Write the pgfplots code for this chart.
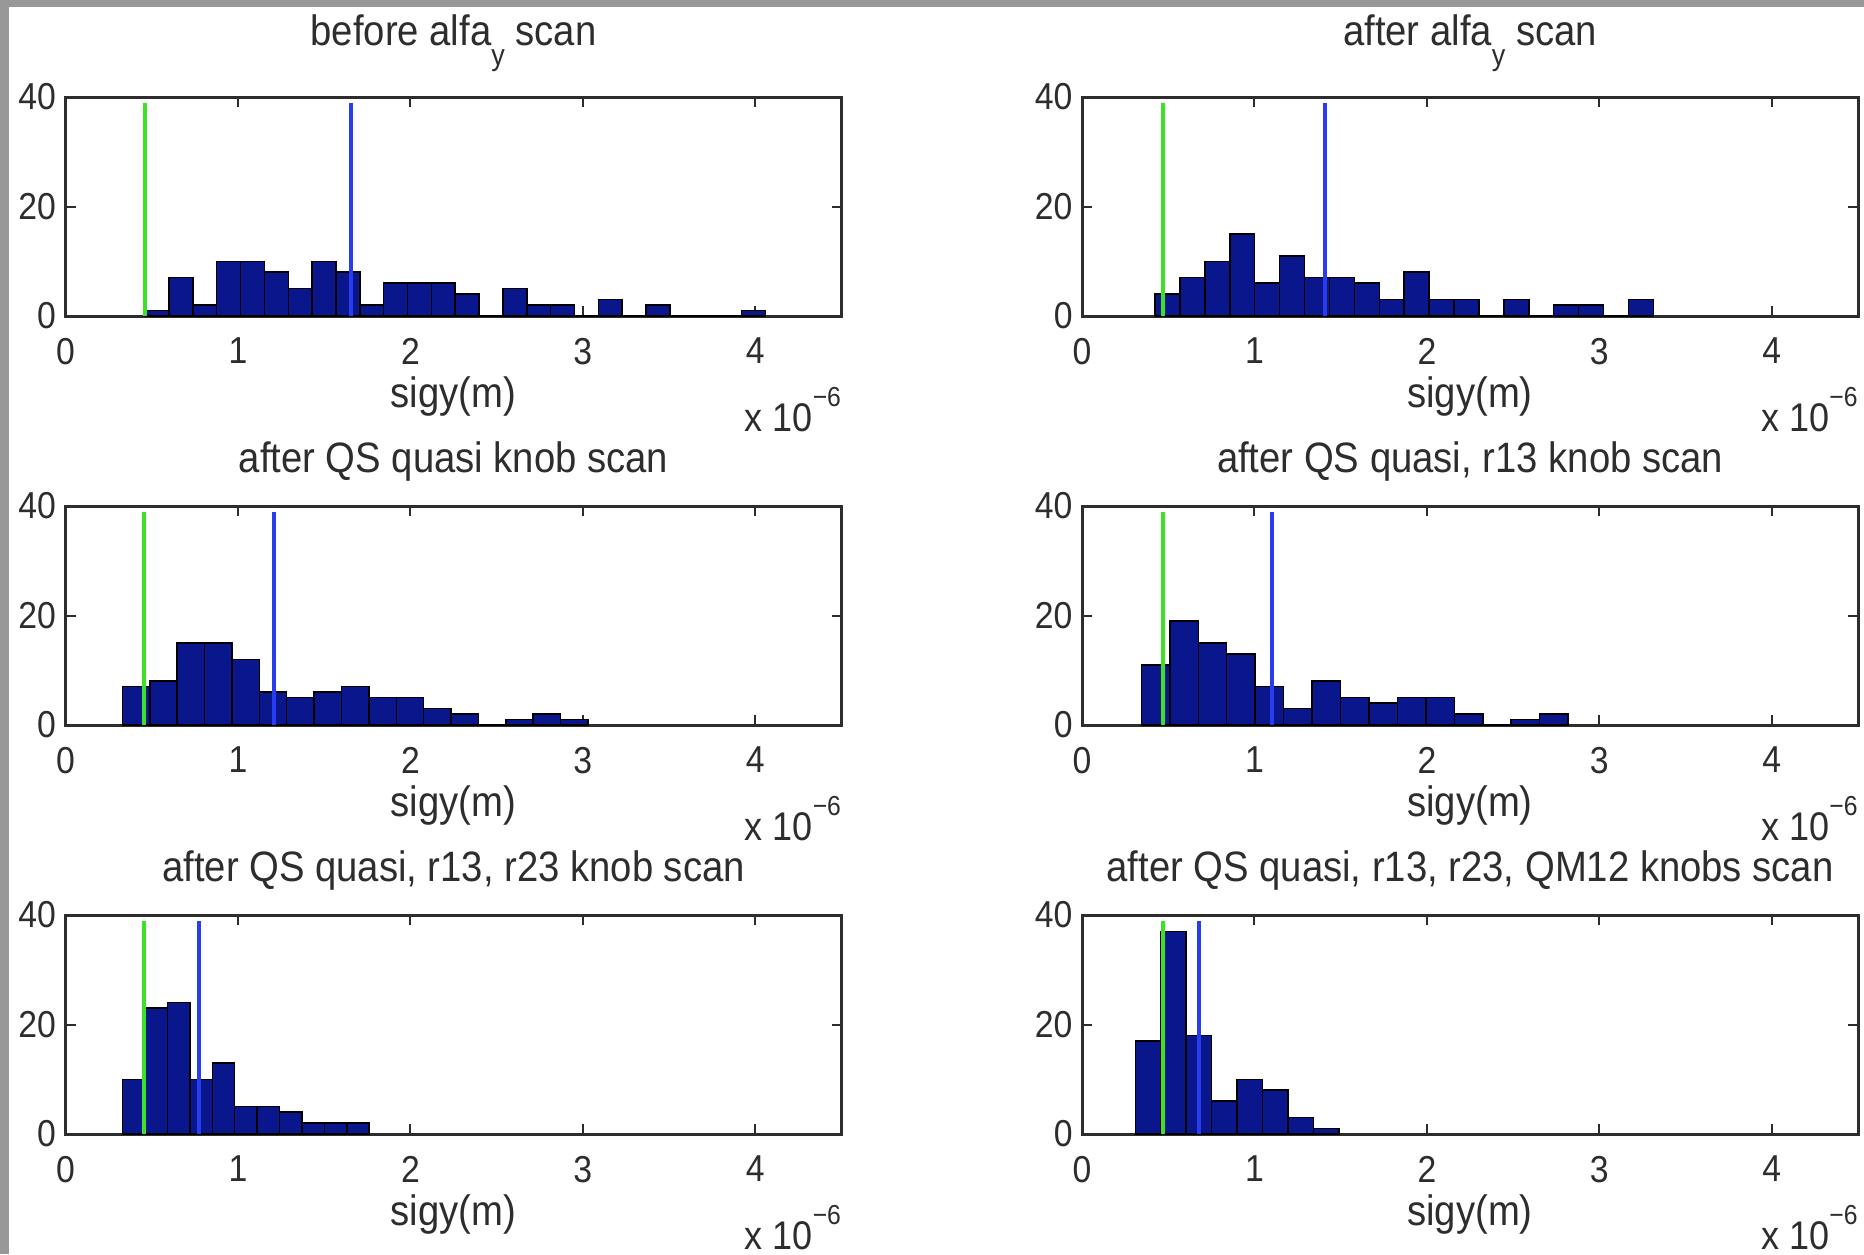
\documentclass[border=0pt]{standalone}
\usepackage{fontspec}
\setmainfont{Liberation Sans}[FakeStretch=0.9]
\usepackage{pgfplots}
\pgfplotsset{compat=1.18}
\definecolor{barblue}{RGB}{10,22,140}
\definecolor{lgreen}{RGB}{60,225,40}
\definecolor{lblue}{RGB}{40,60,240}
\definecolor{axgray}{RGB}{45,45,45}
\definecolor{txt}{RGB}{45,45,45}
\definecolor{bggray}{RGB}{152,152,152}
\newcommand{\sub}[1]{\raisebox{-8.2pt}{\fontsize{12}{12}\selectfont #1}}
\newcommand{\mult}{x 10\raisebox{10pt}{\fontsize{11}{11}\selectfont −6}}
\tikzset{
  ttl/.style={anchor=base, font=\fontsize{17}{17}\selectfont, text=txt, inner sep=0pt},
  mlt/.style={anchor=base east, font=\fontsize{16}{16}\selectfont, text=txt, inner sep=0pt, yshift=-46pt},
}
\pgfplotsset{
  mat/.style={
    scale only axis, width=310.4pt, height=87.6pt,
    anchor=south west,
    xmin=0, xmax=4.5, ymin=0, ymax=40,
    xtick={0,1,2,3,4}, ytick={0,20,40},
    x tick label as interval=false,
    tick align=inside, major tick length=4pt,
    axis line style={line width=1.2pt, draw=axgray},
    every tick/.style={line width=0.8pt, draw=axgray},
    tick label style={font=\fontsize{15}{15}\selectfont, text=txt},
    xticklabel style={anchor=north, inner sep=0pt, yshift=-8.6pt},
    yticklabel style={anchor=east, inner sep=0pt, xshift=-3.6pt},
    /pgf/number format/assume math mode=true,
    clip mode=individual,
    xlabel={sigy(m)},
    xlabel style={at={(axis description cs:0.5,0)}, anchor=base, yshift=-36.4pt, font=\fontsize{17}{17}\selectfont, text=txt, inner sep=0pt},
  },
  bars/.style={ybar interval, fill=barblue, draw=black, line width=0.6pt},
  gline/.style={draw=lgreen, line width=1.6pt, no marks},
  bline/.style={draw=lblue, line width=1.6pt, no marks},
}
\begin{document}
\begin{tikzpicture}
\useasboundingbox (0,0) rectangle (745.6pt,-501.6pt);
\fill[bggray] (0,0) rectangle (745.6pt,-501.6pt);
\fill[white] (3.6pt,-2.8pt) rectangle (745.6pt,-501.6pt);

% Row 1 left: before alfa_y scan
\begin{axis}[mat, at={(26.2pt,-126.4pt)}]
\addplot[bars] coordinates {
(0.462,1) (0.600,7) (0.739,2) (0.877,10) (1.015,10) (1.154,8) (1.292,5) (1.430,10)
(1.568,8) (1.707,2) (1.845,6) (1.983,6) (2.122,6) (2.260,4) (2.398,0) (2.537,5)
(2.675,2) (2.813,2) (2.951,0) (3.090,3) (3.228,0) (3.366,2) (3.505,0) (3.643,0)
(3.781,0) (3.920,1) (4.058,0)};
\addplot[gline] coordinates {(0.462,0) (0.462,38.9)};
\addplot[bline] coordinates {(1.656,0) (1.656,38.9)};
\node[ttl, yshift=20.8pt] at (axis description cs:0.5,1) {before alfa\sub{y} scan};
\node[mlt] at (axis description cs:1,0) {\mult};
\end{axis}

% Row 1 right: after alfa_y scan
\begin{axis}[mat, at={(432.8pt,-126.4pt)}]
\addplot[bars] coordinates {
(0.423,4) (0.568,7) (0.712,10) (0.857,15) (1.001,6) (1.146,11) (1.290,7) (1.435,7)
(1.579,6) (1.724,3) (1.868,8) (2.013,3) (2.157,3) (2.302,0) (2.446,3) (2.591,0)
(2.735,2) (2.880,2) (3.024,0) (3.169,3) (3.313,0)};
\addplot[gline] coordinates {(0.471,0) (0.471,38.9)};
\addplot[bline] coordinates {(1.41,0) (1.41,38.9)};
\node[ttl, yshift=20.8pt] at (axis description cs:0.5,1) {after alfa\sub{y} scan};
\node[mlt] at (axis description cs:1,0) {\mult};
\end{axis}

% Row 2 left: after QS quasi knob scan
\begin{axis}[mat, at={(26.2pt,-290pt)}]
\addplot[bars] coordinates {
(0.330,7) (0.489,8) (0.648,15) (0.806,15) (0.965,12) (1.124,6) (1.283,5) (1.442,6)
(1.600,7) (1.759,5) (1.918,5) (2.077,3) (2.236,2) (2.394,0) (2.553,1) (2.712,2)
(2.871,1) (3.030,0)};
\addplot[gline] coordinates {(0.458,0) (0.458,38.9)};
\addplot[bline] coordinates {(1.21,0) (1.21,38.9)};
\node[ttl, yshift=13.6pt] at (axis description cs:0.5,1) {after QS quasi knob scan};
\node[mlt] at (axis description cs:1,0) {\mult};
\end{axis}

% Row 2 right: after QS quasi, r13 knob scan
\begin{axis}[mat, at={(432.8pt,-290pt)}]
\addplot[bars] coordinates {
(0.344,11) (0.509,19) (0.674,15) (0.839,13) (1.004,7) (1.169,3) (1.334,8) (1.499,5)
(1.664,4) (1.829,5) (1.994,5) (2.159,2) (2.324,0) (2.489,1) (2.654,2) (2.819,0)};
\addplot[gline] coordinates {(0.472,0) (0.472,38.9)};
\addplot[bline] coordinates {(1.10,0) (1.10,38.9)};
\node[ttl, yshift=13.6pt] at (axis description cs:0.5,1) {after QS quasi, r13 knob scan};
\node[mlt] at (axis description cs:1,0) {\mult};
\end{axis}

% Row 3 left: after QS quasi, r13, r23 knob scan
\begin{axis}[mat, at={(26.2pt,-453.6pt)}]
\addplot[bars] coordinates {
(0.331,10) (0.461,23) (0.591,24) (0.721,10) (0.851,13) (0.981,5) (1.111,5) (1.241,4)
(1.371,2) (1.501,2) (1.631,2) (1.761,0)};
\addplot[gline] coordinates {(0.455,0) (0.455,38.9)};
\addplot[bline] coordinates {(0.774,0) (0.774,38.9)};
\node[ttl, yshift=13.6pt] at (axis description cs:0.5,1) {after QS quasi, r13, r23 knob scan};
\node[mlt] at (axis description cs:1,0) {\mult};
\end{axis}

% Row 3 right: after QS quasi, r13, r23, QM12 knobs scan
\begin{axis}[mat, at={(432.8pt,-453.6pt)}]
\addplot[bars] coordinates {
(0.309,17) (0.457,37) (0.604,18) (0.752,6) (0.900,10) (1.047,8) (1.195,3) (1.342,1)
(1.490,0)};
\addplot[gline] coordinates {(0.468,0) (0.468,38.9)};
\addplot[bline] coordinates {(0.679,0) (0.679,38.9)};
\node[ttl, yshift=13.6pt] at (axis description cs:0.5,1) {after QS quasi, r13, r23, QM12 knobs scan};
\node[mlt] at (axis description cs:1,0) {\mult};
\end{axis}
\end{tikzpicture}
\end{document}
